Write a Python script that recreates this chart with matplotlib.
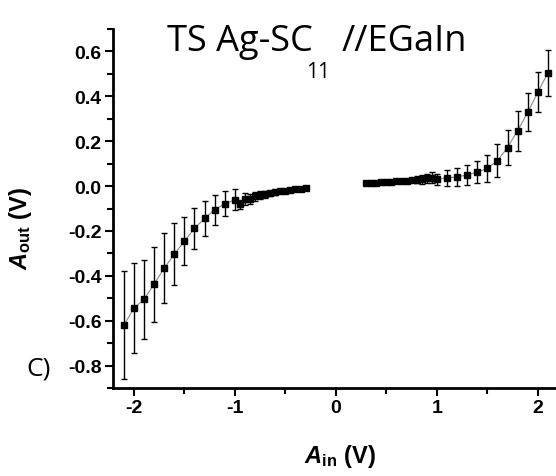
import numpy as np
import matplotlib
matplotlib.use('Agg')
import matplotlib.pyplot as plt
from matplotlib.ticker import MultipleLocator, FormatStrFormatter

plt.rcParams['axes.unicode_minus'] = False
plt.rcParams['font.family'] = 'Liberation Sans'
plt.rcParams['font.weight'] = 'bold'
plt.rcParams['mathtext.fontset'] = 'custom'
plt.rcParams['mathtext.it'] = 'Liberation Sans:italic:bold'
plt.rcParams['mathtext.rm'] = 'Liberation Sans:bold'
plt.rcParams['mathtext.bf'] = 'Liberation Sans:bold'

# negative bias branch
neg_x = [-2.1, -2.0, -1.9, -1.8, -1.7, -1.6, -1.5, -1.4, -1.3, -1.2, -1.1, -1.0,
         -0.95, -0.9, -0.85, -0.8, -0.75, -0.7, -0.65, -0.6, -0.55, -0.5, -0.45,
         -0.4, -0.35, -0.3]
neg_y = [-0.62, -0.544, -0.505, -0.437, -0.366, -0.304, -0.246, -0.188, -0.144,
         -0.105, -0.079, -0.061, -0.081, -0.058, -0.057, -0.045, -0.041, -0.036,
         -0.032, -0.028, -0.024, -0.021, -0.018, -0.015, -0.012, -0.01]
neg_err = [0.24, 0.2, 0.177, 0.167, 0.155, 0.138, 0.107, 0.092, 0.078, 0.067,
           0.055, 0.046, 0.02, 0.025, 0.022, 0.02, 0.018, 0.015, 0.012, 0.01,
           0.008, 0.007, 0.006, 0.005, 0.004, 0.003]

# positive bias branch
pos_x = [0.3, 0.35, 0.4, 0.45, 0.5, 0.55, 0.6, 0.65, 0.7, 0.75, 0.8, 0.85, 0.9,
         0.95, 1.0, 1.1, 1.2, 1.3, 1.4, 1.5, 1.6, 1.7, 1.8, 1.9, 2.0, 2.1]
pos_y = [0.012, 0.013, 0.015, 0.016, 0.018, 0.019, 0.021, 0.022, 0.024, 0.026,
         0.028, 0.03, 0.034, 0.037, 0.031, 0.036, 0.041, 0.05, 0.062, 0.079,
         0.113, 0.172, 0.247, 0.329, 0.418, 0.505]
pos_err = [0.003, 0.003, 0.004, 0.004, 0.005, 0.005, 0.006, 0.007, 0.008, 0.01,
           0.015, 0.02, 0.022, 0.025, 0.025, 0.036, 0.04, 0.045, 0.048, 0.06,
           0.073, 0.077, 0.089, 0.084, 0.089, 0.103]

fig = plt.figure(figsize=(5.56, 4.77), dpi=100)
ax = fig.add_axes([0.2027, 0.1845, 0.7973, 0.7525])

for x, y, e in ((neg_x, neg_y, neg_err), (pos_x, pos_y, pos_err)):
    ax.plot(x, y, color='0.55', lw=0.8, zorder=2)
    ax.errorbar(x, y, yerr=e, fmt='s', ms=4.5, color='k', ecolor='k',
                elinewidth=1.0, capsize=2.4, capthick=1.0, zorder=3)

ax.set_xlim(-2.21, 2.18)
ax.set_ylim(-0.9, 0.7)
ax.xaxis.set_major_locator(MultipleLocator(1))
ax.xaxis.set_minor_locator(MultipleLocator(0.5))
ax.yaxis.set_major_locator(MultipleLocator(0.2))
ax.yaxis.set_minor_locator(MultipleLocator(0.1))
ax.yaxis.set_major_formatter(FormatStrFormatter('%.1f'))

for s in ('top', 'right'):
    ax.spines[s].set_visible(False)
for s in ('left', 'bottom'):
    ax.spines[s].set_linewidth(2)

ax.tick_params(which='major', length=6, width=1.5, direction='out', pad=2,
               labelsize=14)
ax.tick_params(which='minor', length=4, width=1.5, direction='out')

# axis labels
fig.text(0.612, 0.014, r'$\mathit{A}_{\mathrm{in}}$ (V)', ha='center', va='bottom',
         fontsize=17, fontweight='bold')
fig.text(0.036, 0.52, r'$\mathit{A}_{\mathrm{out}}$ (V)', ha='center', va='center',
         rotation=90, fontsize=17, fontweight='bold')

# title pieces, with the low subscript of the original
fig.text(0.300, 0.893, 'TS Ag-SC', ha='left', va='baseline', fontsize=26,
         family='Open Sans', fontweight='normal')
fig.text(0.551, 0.836, '11', ha='left', va='baseline', fontsize=15,
         family='Open Sans', fontweight='normal')
fig.text(0.615, 0.893, '//EGaIn', ha='left', va='baseline', fontsize=26,
         family='Open Sans', fontweight='normal')
fig.text(0.048, 0.212, 'C)', ha='left', va='baseline', fontsize=19,
         family='Open Sans', fontweight='normal')

fig.savefig('out.png', dpi=100, facecolor='white')
